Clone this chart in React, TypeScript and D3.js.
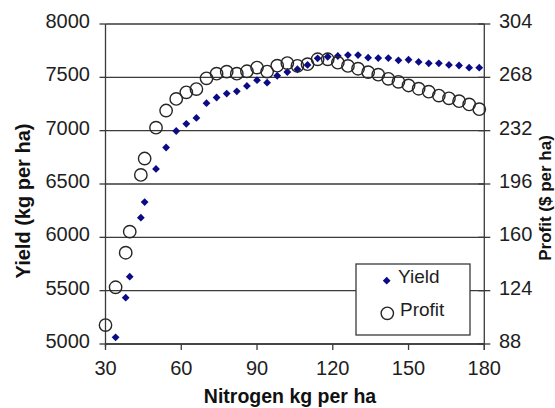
import React from "react";
import * as d3 from "d3";

// Nitrogen rate (kg/ha) for each observation
const nitrogen = [
  30, 34, 38, 39.6, 44, 45.5, 50, 54, 58, 62, 66, 70, 74, 78, 82, 86, 90, 94, 98,
  102, 106, 110, 114, 118, 122, 126, 130, 134, 138, 142, 146, 150, 154, 158, 162,
  166, 170, 174, 178,
];

// Yield (kg/ha); the 30 kg point falls below the axis range
const yieldKg: (number | null)[] = [
  null, 5063, 5434, 5631, 6184, 6331, 6641, 6842, 6997, 7064, 7119, 7258, 7311,
  7348, 7369, 7419, 7473, 7450, 7515, 7550, 7576, 7616, 7678, 7693, 7700, 7709,
  7709, 7684, 7681, 7681, 7659, 7665, 7644, 7631, 7631, 7616, 7611, 7591, 7591,
];

// Profit ($/ha)
const profit = [
  100.8, 126.3, 149.6, 163.8, 202.1, 213.2, 234.0, 245.6, 253.4, 257.9, 260.1,
  267.3, 270.5, 271.8, 270.5, 272.1, 274.6, 271.9, 275.9, 277.6, 275.8, 276.9,
  280.2, 280.2, 277.9, 275.7, 273.8, 271.5, 269.8, 267.0, 265.0, 262.5, 260.3,
  258.3, 255.7, 253.8, 251.9, 249.7, 246.5,
];

const xTicks = [30, 60, 90, 120, 150, 180];
const yieldTicks = [5000, 5500, 6000, 6500, 7000, 7500, 8000];
const profitTicks = [88, 124, 160, 196, 232, 268, 304];

const W = 555;
const H = 408;
const left = 105.5;
const right = 484.3;
const top = 24;
const bottom = 344;

const FONT = "'Liberation Sans', Arial, sans-serif";
const NAVY = "#0b0b86";
const LINE = "#3a3a3a";
const TEXT = "#1e1e1e";

const diamond = (cx: number, cy: number, r: number) =>
  `M${cx},${cy - r}L${cx + r},${cy}L${cx},${cy + r}L${cx - r},${cy}Z`;

export default function App() {
  const x = d3.scaleLinear().domain([30, 180]).range([left, right]);
  const yY = d3.scaleLinear().domain([5000, 8000]).range([bottom, top]);
  const yP = d3.scaleLinear().domain([88, 304]).range([bottom, top]);

  return (
    <svg
      width={W}
      height={H}
      style={{ position: "absolute", left: 0, top: 0, background: "#fff" }}
      fontFamily={FONT}
    >
      {/* gridlines */}
      {yieldTicks.map((t) => (
        <line key={"g" + t} x1={left} x2={right} y1={yY(t)} y2={yY(t)} stroke={LINE} strokeWidth={1.3} />
      ))}

      {/* left axis */}
      <line x1={left} x2={left} y1={top} y2={bottom + 3} stroke={LINE} strokeWidth={1.3} />
      {yieldTicks.map((t) => (
        <g key={"ly" + t}>
          <line x1={left - 6} x2={left} y1={yY(t)} y2={yY(t)} stroke={LINE} strokeWidth={1.3} />
          <text x={90} y={yY(t) - 3} textAnchor="end" dominantBaseline="central" fontSize={20} fill={TEXT}>
            {t}
          </text>
        </g>
      ))}

      {/* right axis */}
      <line x1={right} x2={right} y1={top} y2={bottom + 6} stroke={LINE} strokeWidth={1.3} />
      {profitTicks.map((t) => (
        <g key={"ry" + t}>
          <line x1={right - 6} x2={right + 6} y1={yP(t)} y2={yP(t)} stroke={LINE} strokeWidth={1.3} />
          <text x={499} y={yP(t) - 3} textAnchor="start" dominantBaseline="central" fontSize={20} fill={TEXT}>
            {t}
          </text>
        </g>
      ))}

      {/* bottom axis */}
      <line x1={left} x2={right} y1={bottom} y2={bottom} stroke={LINE} strokeWidth={1.3} />
      {xTicks.map((t) => (
        <g key={"x" + t}>
          <line x1={x(t)} x2={x(t)} y1={bottom} y2={bottom + 6} stroke={LINE} strokeWidth={1.3} />
          <text x={x(t)} y={375} textAnchor="middle" fontSize={20} fill={TEXT}>
            {t}
          </text>
        </g>
      ))}

      {/* axis titles */}
      <text x={290} y={403} textAnchor="middle" fontSize={19.5} fontWeight="bold" fill="#111">
        Nitrogen kg per ha
      </text>
      <text
        transform={`translate(23,201) rotate(-90)`}
        textAnchor="middle"
        dominantBaseline="central"
        fontSize={20}
        fontWeight="bold"
        fill="#111"
      >
        Yield (kg per ha)
      </text>
      <text
        transform={`translate(545,198) rotate(-90)`}
        textAnchor="middle"
        dominantBaseline="central"
        fontSize={17}
        fontWeight="bold"
        fill="#111"
      >
        Profit ($ per ha)
      </text>

      {/* yield series */}
      {nitrogen.map((n, i) =>
        yieldKg[i] == null ? null : (
          <path key={"d" + i} d={diamond(x(n), yY(yieldKg[i] as number), 3.9)} fill={NAVY} />
        )
      )}

      {/* profit series */}
      {nitrogen.map((n, i) => (
        <circle key={"c" + i} cx={x(n)} cy={yP(profit[i])} r={6.2} fill="none" stroke="#262626" strokeWidth={1.4} />
      ))}

      {/* legend */}
      <rect x={356} y={264} width={114} height={71} fill="#fff" stroke={LINE} strokeWidth={1.3} />
      <path d={diamond(386.7, 280.7, 3.9)} fill={NAVY} />
      <text x={398} y={282.5} fontSize={19} fill={TEXT}>Yield</text>
      <circle cx={387.3} cy={313.3} r={6.2} fill="none" stroke="#262626" strokeWidth={1.4} />
      <text x={400} y={315.5} fontSize={19} fill={TEXT}>Profit</text>
    </svg>
  );
}
